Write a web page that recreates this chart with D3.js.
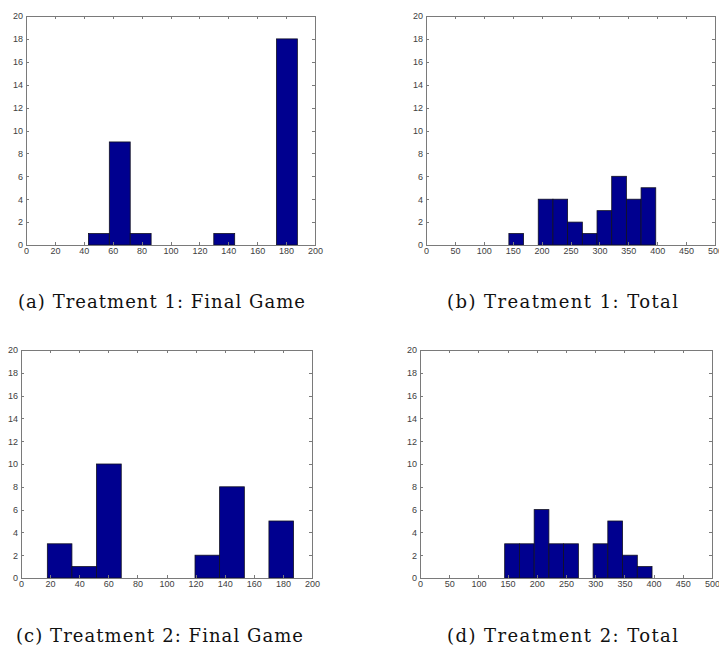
<!DOCTYPE html>
<html><head><meta charset="utf-8">
<script src="https://cdn.jsdelivr.net/npm/d3@7/dist/d3.min.js"></script>
<style>
html,body{margin:0;padding:0;background:#fff;}
svg{display:block;}
</style></head>
<body>
<svg id="chart" width="719" height="645"></svg>
<script>
// ---- data ----
const captions = ["(a) Treatment 1: Final Game", "(b) Treatment 1: Total",
                  "(c) Treatment 2: Final Game", "(d) Treatment 2: Total"];
const xMaxes = [200, 500, 200, 500];
const xTickStep = [20, 50, 20, 50];
const yTicks = [0, 2, 4, 6, 8, 10, 12, 14, 16, 18, 20];

const t1FinalEdges = [43.2, 57.66, 72.12, 86.58, 101.04, 115.5, 129.96, 144.42, 158.88, 173.34, 187.8];
const t1FinalCounts = [1, 9, 1, 0, 0, 0, 1, 0, 0, 18];
const t1TotalEdges = [143.4, 168.8, 194.2, 219.6, 245.0, 270.5, 295.9, 321.3, 346.7, 372.1, 397.5];
const t1TotalCounts = [1, 0, 4, 4, 2, 1, 3, 6, 4, 5];
const t2FinalEdges = [18.1, 35.0, 51.9, 68.9, 85.8, 102.7, 119.6, 136.5, 153.5, 170.4, 187.3];
const t2FinalCounts = [3, 1, 10, 0, 0, 0, 2, 8, 0, 5];
const t2TotalEdges = [145.0, 170.2, 195.5, 220.7, 245.9, 271.2, 296.4, 321.6, 346.8, 372.1, 397.3];
const t2TotalCounts = [3, 3, 6, 3, 3, 0, 3, 5, 2, 1];

const edgesList = [t1FinalEdges, t1TotalEdges, t2FinalEdges, t2TotalEdges];
const countsList = [t1FinalCounts, t1TotalCounts, t2FinalCounts, t2TotalCounts];

// ---- layout ----
const boxes = [
  {l: 26, r: 315, t: 16, b: 245, cx: 18, cy: 308, cw: 287},
  {l: 426, r: 715, t: 16, b: 245, cx: 447, cy: 308, cw: 231},
  {l: 21, r: 312, t: 350, b: 578, cx: 16, cy: 642, cw: 287},
  {l: 420, r: 712, t: 350, b: 578, cx: 447, cy: 642, cw: 231}
];

const svg = d3.select("#chart");
const axisColor = "#7a7a7a";
const labelColor = "#404040";

boxes.forEach((B, i) => {
  const x = d3.scaleLinear().domain([0, xMaxes[i]]).range([B.l, B.r]);
  const y = d3.scaleLinear().domain([0, 20]).range([B.b, B.t]);
  const g = svg.append("g");
  const xt = d3.range(0, xMaxes[i] + 1, xTickStep[i]);

  // bars
  const bins = countsList[i].map((c, k) => ({x0: edgesList[i][k], x1: edgesList[i][k + 1], c}));
  g.selectAll("rect.bar").data(bins.filter(d => d.c > 0)).join("rect")
    .attr("class", "bar")
    .attr("x", d => x(d.x0))
    .attr("y", d => y(d.c))
    .attr("width", d => x(d.x1) - x(d.x0))
    .attr("height", d => y(0) - y(d.c))
    .attr("fill", "#00008f")
    .attr("stroke", "#111122")
    .attr("stroke-width", 0.8);

  // axes (ticks inward)
  const fmt = d3.format("d");
  const bottom = g.append("g").attr("transform", `translate(0,${B.b})`)
    .call(d3.axisBottom(x).tickValues(xt).tickSize(-3).tickPadding(3).tickFormat(fmt));
  const top = g.append("g").attr("transform", `translate(0,${B.t})`)
    .call(d3.axisTop(x).tickValues(xt).tickSize(-3).tickFormat(""));
  const left = g.append("g").attr("transform", `translate(${B.l},0)`)
    .call(d3.axisLeft(y).tickValues(yTicks).tickSize(-3).tickPadding(3).tickFormat(fmt));
  const right = g.append("g").attr("transform", `translate(${B.r},0)`)
    .call(d3.axisRight(y).tickValues(yTicks).tickSize(-3).tickFormat(""));
  [bottom, top, left, right].forEach(a => {
    a.select(".domain").remove();
    a.selectAll(".tick line").attr("stroke", axisColor).attr("shape-rendering", "crispEdges");
    a.selectAll(".tick text").attr("fill", labelColor)
      .style("font-family", "'Liberation Sans', Arial, sans-serif").style("font-size", "9px");
  });
  bottom.selectAll(".tick text").attr("dy", "0.71em");
  // box
  g.append("rect").attr("x", B.l).attr("y", B.t)
    .attr("width", B.r - B.l).attr("height", B.b - B.t)
    .attr("fill", "none").attr("stroke", axisColor).attr("stroke-width", 1)
    .attr("shape-rendering", "crispEdges");

  // caption
  svg.append("text").attr("x", B.cx).attr("y", B.cy)
    .attr("fill", "#111")
    .style("font-family", "'DejaVu Serif', 'Liberation Serif', serif")
    .style("font-size", "18px")
    .attr("textLength", B.cw).attr("lengthAdjust", "spacing")
    .text(captions[i]);
});
</script>
</body></html>
